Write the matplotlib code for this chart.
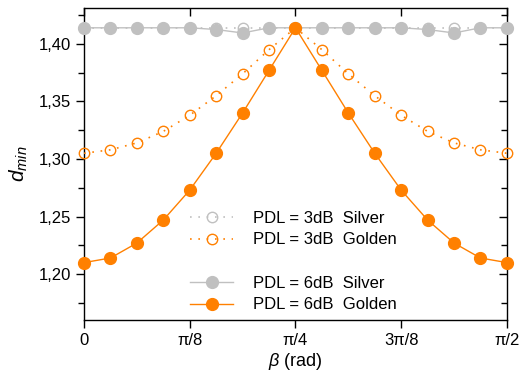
import numpy as np
import matplotlib
matplotlib.use("Agg")
import matplotlib.pyplot as plt
from matplotlib.ticker import MultipleLocator, FuncFormatter
from matplotlib.lines import Line2D

plt.rcParams['font.family'] = ['Liberation Sans', 'DejaVu Sans']
plt.rcParams['mathtext.fontset'] = 'custom'
plt.rcParams['mathtext.rm'] = 'Liberation Sans'
plt.rcParams['mathtext.it'] = 'Liberation Sans:italic'

# beta index k -> beta = k*pi/32, k = 0..16
beta_steps = list(range(17))
silver_3db = [1.414] * 17
golden_3db = [1.305, 1.308, 1.314, 1.324, 1.338, 1.355, 1.374, 1.395, 1.414,
              1.395, 1.374, 1.355, 1.338, 1.324, 1.314, 1.308, 1.305]
silver_6db = [1.414, 1.414, 1.414, 1.414, 1.414, 1.4125, 1.4095, 1.414, 1.414,
              1.414, 1.414, 1.414, 1.414, 1.4125, 1.4095, 1.414, 1.414]
golden_6db = [1.210, 1.214, 1.227, 1.247, 1.273, 1.305, 1.340, 1.377, 1.414,
              1.377, 1.340, 1.305, 1.273, 1.247, 1.227, 1.214, 1.210]
xtick_labels = ['0', 'π/8', 'π/4', '3π/8', 'π/2']
legend_labels = ['PDL = 3dB  Silver', 'PDL = 3dB  Golden', '',
                 'PDL = 6dB  Silver', 'PDL = 6dB  Golden']

x = np.array(beta_steps) * np.pi / 32

GRAY = '#c0c0c0'
ORANGE = '#ff8000'

fig = plt.figure(figsize=(5.22, 3.74), dpi=100)
ax = fig.add_axes([0.161, 0.144, 0.810, 0.834])

dot = (0, (1, 4))
h1, = ax.plot(x, silver_3db, color=GRAY, ls=dot, lw=1.2, marker='o', ms=7.5,
              mfc='none', mec=GRAY, mew=1.0, clip_on=False, zorder=3)
h2, = ax.plot(x, golden_3db, color=ORANGE, ls=dot, lw=1.2, marker='o', ms=7.5,
              mfc='none', mec=ORANGE, mew=1.0, clip_on=False, zorder=3)
h3, = ax.plot(x, silver_6db, color=GRAY, ls='-', lw=1.0, marker='o', ms=8.5,
              mfc=GRAY, mec=GRAY, clip_on=False, zorder=4)
h4, = ax.plot(x, golden_6db, color=ORANGE, ls='-', lw=1.0, marker='o', ms=8.5,
              mfc=ORANGE, mec=ORANGE, clip_on=False, zorder=5)
blank = Line2D([], [], color='none')

ax.set_xlim(0, np.pi / 2)
ax.set_ylim(1.16, 1.431)
ax.set_xticks([0, np.pi / 8, np.pi / 4, 3 * np.pi / 8, np.pi / 2])
ax.set_xticklabels(xtick_labels)
ax.yaxis.set_major_locator(MultipleLocator(0.05))
ax.yaxis.set_minor_locator(MultipleLocator(0.025))
ax.yaxis.set_major_formatter(FuncFormatter(lambda v, p: f'{v:.2f}'.replace('.', ',')))

ax.tick_params(axis='both', which='major', labelsize=12, length=6, width=1.0,
               direction='out', color='black')
ax.tick_params(axis='y', which='minor', length=4, width=1.0, direction='out')
# mirrored ticks on top/right pointing inward
ax.tick_params(top=True, right=True, which='both')
for t in ax.xaxis.get_major_ticks():
    t.tick2line.set_marker(3)
for t in ax.yaxis.get_major_ticks() + ax.yaxis.get_minor_ticks():
    t.tick2line.set_marker(0)
for s in ax.spines.values():
    s.set_linewidth(1.0)

ax.set_xlabel(r'$\it{\beta}$ (rad)', fontsize=13, labelpad=2)
ax.set_ylabel(r'$\it{d}_{\it{min}}$', fontsize=15, labelpad=6)

leg = ax.legend([h1, h2, blank, h3, h4], legend_labels, loc='upper left',
                bbox_to_anchor=(0.235, 0.372), frameon=False, fontsize=12,
                handlelength=2.6, handletextpad=1.2, labelspacing=0.4,
                borderaxespad=0)

fig.savefig('out.png', dpi=100)
